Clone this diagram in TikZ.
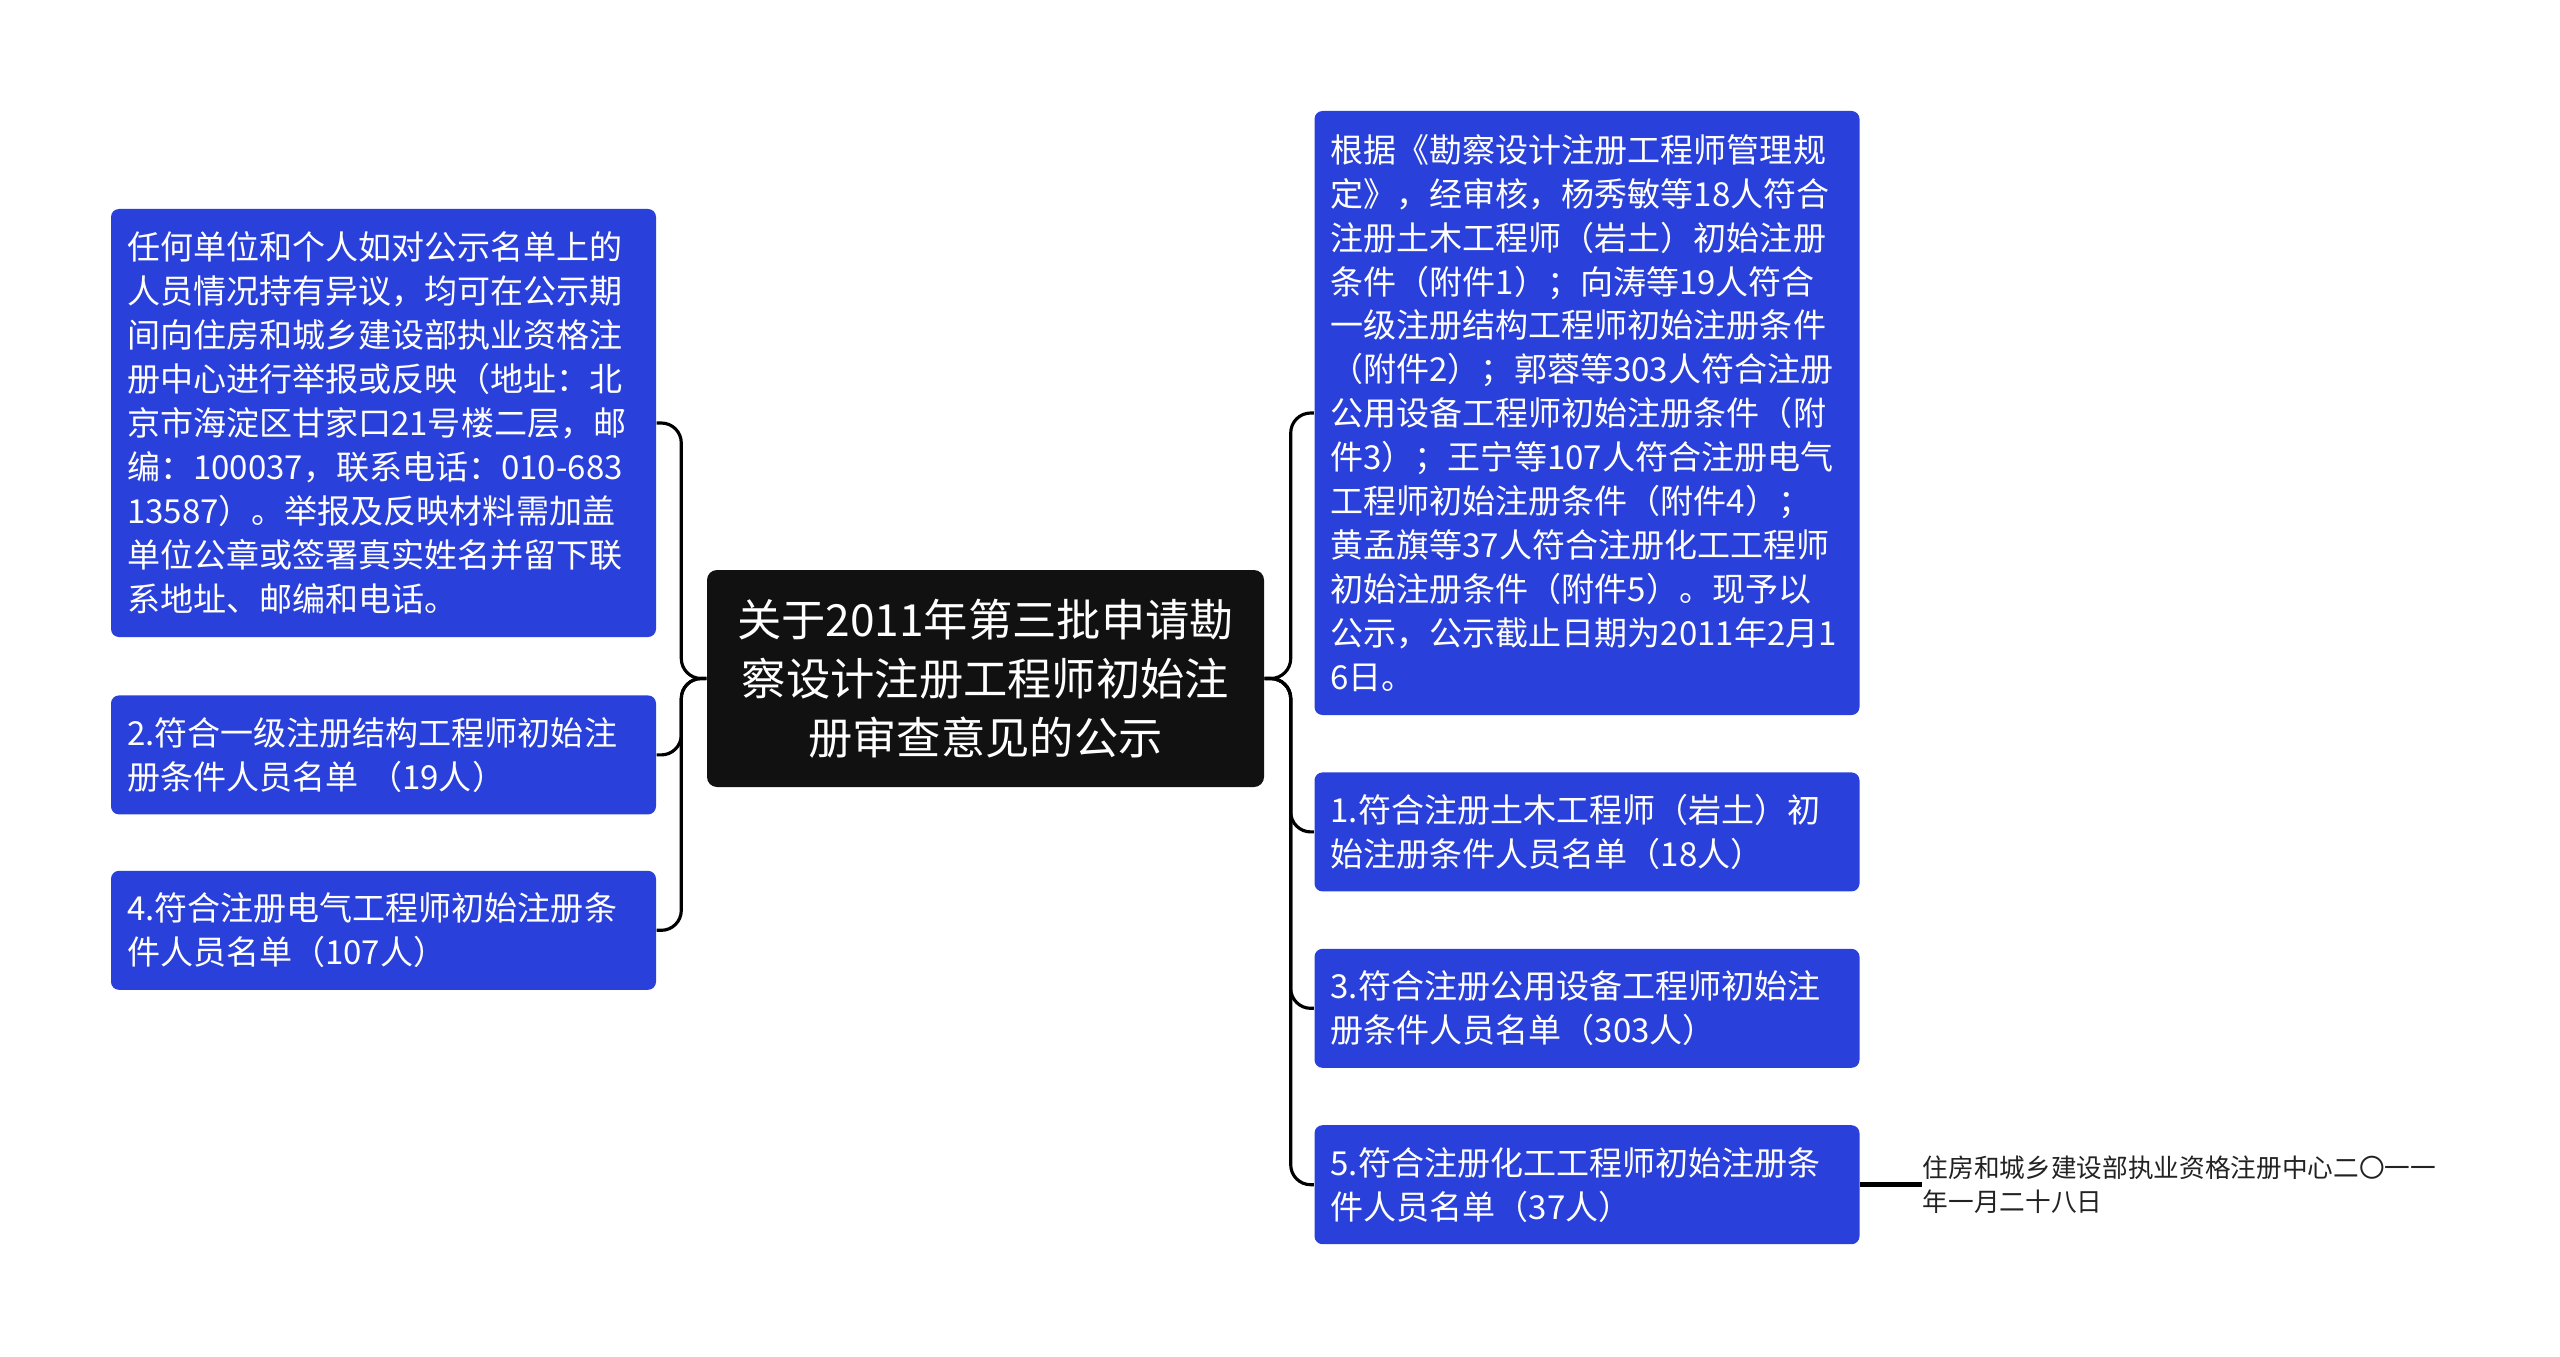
\documentclass[tikz,border=0pt]{standalone}
\usepackage{fontspec}
\newfontfamily\cjk{Noto Sans CJK SC}
\usepackage{tikz}
\usetikzlibrary{positioning, calc}
\definecolor{boxblue}{RGB}{42,64,218}
\definecolor{titleblack}{RGB}{17,17,17}
\definecolor{notegray}{RGB}{34,34,34}

\begin{document}
\begin{tikzpicture}[
    box/.style={font=\cjk\fontsize{9.4pt}{12.5pt}\selectfont, fill=boxblue, text=white, rounded corners=0.08cm, text width=5.13cm, inner xsep=0.16cm, inner ysep=0.16cm, align=left, minimum height=1.19cm},
    title/.style={font=\cjk\fontsize{12.6pt}{16.8pt}\selectfont, fill=titleblack, text=white, rounded corners=0.1cm, minimum width=5.57cm, minimum height=2.17cm, align=center, inner sep=0pt},
    note/.style={font=\cjk\fontsize{7.3pt}{9.7pt}\selectfont, text=notegray, align=left, inner sep=0pt},
    link/.style={draw=black, line width=0.9pt, rounded corners=0.2cm}
]

  \useasboundingbox (0,0) rectangle (25.6,-13.57);

  % Centre topic
  \node[title] (topic) at (9.855,-6.785) {关于2011年第三批申请勘\\察设计注册工程师初始注\\册审查意见的公示};

  % Left column
  \node[box, minimum height=4.28cm] (objection) at (3.835,-4.23) {任何单位和个人如对公示名单上的\\人员情况持有异议，均可在公示期\\间向住房和城乡建设部执业资格注\\册中心进行举报或反映（地址：北\\京市海淀区甘家口21号楼二层，邮\\编：100037，联系电话：010-683\\13587）。举报及反映材料需加盖\\单位公章或签署真实姓名并留下联\\系地址、邮编和电话。};
  \node[box, below=0.57cm of objection] (list2) {2.符合一级注册结构工程师初始注\\册条件人员名单 （19人）};
  \node[box, below=0.55cm of list2] (list4) {4.符合注册电气工程师初始注册条\\件人员名单（107人）};

  % Right column
  \node[box, minimum height=6.04cm] (basis) at (15.87,-4.13) {根据《勘察设计注册工程师管理规\\定》，经审核，杨秀敏等18人符合\\注册土木工程师（岩土）初始注册\\条件（附件1）；向涛等19人符合\\一级注册结构工程师初始注册条件\\（附件2）；郭蓉等303人符合注册\\公用设备工程师初始注册条件（附\\件3）；王宁等107人符合注册电气\\工程师初始注册条件（附件4）；\\黄孟旗等37人符合注册化工工程师\\初始注册条件（附件5）。现予以\\公示，公示截止日期为2011年2月1\\6日。};
  \node[box, below=0.56cm of basis] (list1) {1.符合注册土木工程师（岩土）初\\始注册条件人员名单（18人）};
  \node[box, below=0.56cm of list1] (list3) {3.符合注册公用设备工程师初始注\\册条件人员名单（303人）};
  \node[box, below=0.56cm of list3] (list5) {5.符合注册化工工程师初始注册条\\件人员名单（37人）};

  % Note beside the last list
  \node[note, right=0.62cm of list5] (issuer) {住房和城乡建设部执业资格注册中心二〇一一\\年一月二十八日};

  % Connectors
  \coordinate (ljoin) at ($(topic.west)+(-0.25,0)$);
  \coordinate (rjoin) at ($(topic.east)+(0.26,0)$);
  \foreach \b in {objection, list2, list4}
    \draw[link] (topic.west) -- (ljoin) |- (\b.east);
  \foreach \b in {basis, list1, list3, list5}
    \draw[link] (topic.east) -- (rjoin) |- (\b.west);
  \draw[link, line width=1.3pt] (list5.east) -- (issuer.west);

\end{tikzpicture}
\end{document}
